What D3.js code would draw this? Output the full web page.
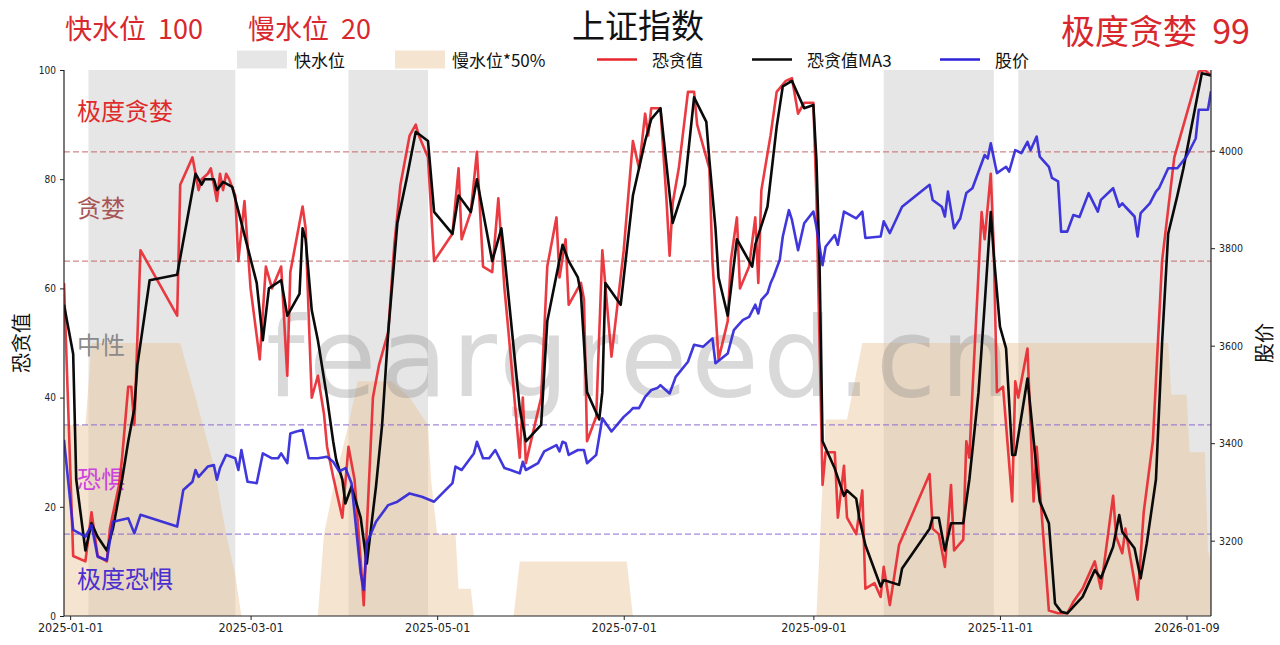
<!DOCTYPE html>
<html><head><meta charset="utf-8">
<script src="https://cdn.jsdelivr.net/npm/d3@7"></script>
<style>body{margin:0;background:#fff;}svg{display:block;}text{font-family:"Noto Sans CJK SC","Noto Sans",sans-serif;}</style>
</head><body>
<svg id="c" width="1280" height="645"></svg>
<script>
// ---------------- DATA ----------------
const fearGreed = [["2024-12-30",61],["2025-01-02",11],["2025-01-06",10],["2025-01-08",19],["2025-01-10",11],["2025-01-13",10],["2025-01-14",16],["2025-01-17",24],["2025-01-18",29],["2025-01-20",42],["2025-01-21",42],["2025-01-22",35],["2025-01-24",67],["2025-02-05",55],["2025-02-06",79],["2025-02-10",84],["2025-02-11",81],["2025-02-12",78],["2025-02-13",80],["2025-02-15",81],["2025-02-16",82],["2025-02-18",76],["2025-02-19",81],["2025-02-20",78],["2025-02-21",81],["2025-02-22",80],["2025-02-24",77],["2025-02-25",65],["2025-02-27",76],["2025-02-28",68],["2025-03-01",60],["2025-03-04",47],["2025-03-06",64],["2025-03-08",60],["2025-03-11",64],["2025-03-13",44],["2025-03-14",63],["2025-03-18",75],["2025-03-19",71],["2025-03-20",55],["2025-03-21",40],["2025-03-23",44],["2025-03-25",37],["2025-03-26",31],["2025-03-28",25.5],["2025-03-31",18],["2025-04-02",31],["2025-04-04",25],["2025-04-06",10],["2025-04-07",2],["2025-04-08",16],["2025-04-10",40],["2025-04-12",46],["2025-04-15",52],["2025-04-17",68],["2025-04-19",79],["2025-04-22",88],["2025-04-24",90],["2025-04-25",88],["2025-04-28",84],["2025-04-30",65],["2025-05-06",70],["2025-05-08",82],["2025-05-09",69],["2025-05-12",74],["2025-05-14",85],["2025-05-15",74.5],["2025-05-16",64],["2025-05-19",63],["2025-05-21",76.5],["2025-05-23",60],["2025-05-24",54],["2025-05-28",29],["2025-05-29",40],["2025-05-30",28],["2025-06-04",40],["2025-06-06",64],["2025-06-09",73],["2025-06-10",62],["2025-06-12",69],["2025-06-13",57],["2025-06-17",61],["2025-06-18",58],["2025-06-19",32],["2025-06-22",36.5],["2025-06-24",67],["2025-06-27",47.5],["2025-07-01",67],["2025-07-04",87],["2025-07-06",82],["2025-07-08",92],["2025-07-09",88],["2025-07-10",93],["2025-07-13",93],["2025-07-15",76],["2025-07-16",66],["2025-07-17",75.6],["2025-07-19",82],["2025-07-22",96],["2025-07-24",96],["2025-07-25",90],["2025-07-28",84],["2025-07-29",82],["2025-07-30",65],["2025-08-01",47],["2025-08-04",54],["2025-08-05",65],["2025-08-07",73],["2025-08-08",60],["2025-08-11",64],["2025-08-13",73],["2025-08-14",61],["2025-08-15",78],["2025-08-18",88],["2025-08-20",96],["2025-08-23",98],["2025-08-25",98.5],["2025-08-27",92],["2025-08-29",94],["2025-09-01",94],["2025-09-02",77],["2025-09-04",24],["2025-09-05",30],["2025-09-08",30],["2025-09-09",18],["2025-09-11",27.5],["2025-09-12",18],["2025-09-15",15],["2025-09-17",23],["2025-09-18",5],["2025-09-21",6],["2025-09-23",3.5],["2025-09-24",9],["2025-09-26",2],["2025-09-29",13],["2025-10-09",26],["2025-10-10",16],["2025-10-12",15],["2025-10-14",9],["2025-10-16",24],["2025-10-17",12],["2025-10-20",14],["2025-10-21",32],["2025-10-22",29],["2025-10-23",41],["2025-10-26",74],["2025-10-27",69],["2025-10-29",81],["2025-10-30",67],["2025-10-31",41],["2025-11-02",42],["2025-11-05",21],["2025-11-06",43],["2025-11-07",40],["2025-11-10",49],["2025-11-12",21],["2025-11-13",31],["2025-11-17",1],["2025-11-20",0.5],["2025-11-23",0.5],["2025-11-25",2.6],["2025-11-28",5],["2025-12-02",10],["2025-12-04",5],["2025-12-08",22],["2025-12-09",14.5],["2025-12-11",11.5],["2025-12-12",16],["2025-12-16",3],["2025-12-18",19],["2025-12-21",32],["2025-12-24",65],["2025-12-28",84],["2026-01-05",99.7],["2026-01-07",100],["2026-01-09",99]];

const fearGreedMA3 = [["2024-12-30",57],["2025-01-02",48],["2025-01-03",25],["2025-01-06",12],["2025-01-08",17],["2025-01-10",14.5],["2025-01-13",12],["2025-01-15",16],["2025-01-18",25],["2025-01-20",32],["2025-01-22",38],["2025-01-23",46],["2025-01-27",61.5],["2025-02-05",62.5],["2025-02-11",81],["2025-02-13",79],["2025-02-14",80],["2025-02-17",80],["2025-02-18",78],["2025-02-20",79.5],["2025-02-23",78.6],["2025-02-26",72],["2025-02-28",67.6],["2025-03-03",61],["2025-03-05",50.5],["2025-03-07",60],["2025-03-11",61.5],["2025-03-13",55],["2025-03-17",59],["2025-03-18",71],["2025-03-19",69],["2025-03-21",56],["2025-03-23",50.5],["2025-03-26",40],["2025-03-28",32],["2025-03-29",28.6],["2025-03-31",25],["2025-04-01",20.6],["2025-04-03",23.7],["2025-04-06",18],["2025-04-08",9.6],["2025-04-11",23.7],["2025-04-13",35],["2025-04-15",52],["2025-04-18",72],["2025-04-21",80],["2025-04-24",88.7],["2025-04-28",87],["2025-04-30",74],["2025-05-06",70],["2025-05-08",77],["2025-05-12",74],["2025-05-14",80],["2025-05-16",74],["2025-05-19",65],["2025-05-22",71],["2025-05-23",66],["2025-05-28",38],["2025-05-30",32],["2025-06-04",35],["2025-06-06",54],["2025-06-11",68],["2025-06-13",65],["2025-06-16",62],["2025-06-17",59],["2025-06-19",41],["2025-06-23",36],["2025-06-24",41],["2025-06-25",61],["2025-06-30",57],["2025-07-04",77],["2025-07-06",82],["2025-07-08",87],["2025-07-10",91],["2025-07-13",93],["2025-07-17",72],["2025-07-21",79],["2025-07-24",95],["2025-07-28",90.5],["2025-07-29",83.5],["2025-07-31",71],["2025-08-01",62],["2025-08-04",55],["2025-08-07",69],["2025-08-12",64],["2025-08-13",68],["2025-08-17",75],["2025-08-20",89.6],["2025-08-22",97],["2025-08-25",98],["2025-08-29",93],["2025-09-01",93.6],["2025-09-02",83.5],["2025-09-03",65],["2025-09-04",32],["2025-09-08",27],["2025-09-11",22],["2025-09-12",23],["2025-09-15",21.5],["2025-09-16",18],["2025-09-18",13],["2025-09-23",5.4],["2025-09-24",6.6],["2025-09-29",5.7],["2025-09-30",8.7],["2025-10-09",16],["2025-10-10",18],["2025-10-12",18],["2025-10-14",12],["2025-10-16",17],["2025-10-20",17],["2025-10-22",25],["2025-10-25",41],["2025-10-27",57],["2025-10-29",74],["2025-10-30",66],["2025-11-01",53],["2025-11-03",49],["2025-11-05",29.5],["2025-11-06",29.5],["2025-11-10",43.5],["2025-11-14",21],["2025-11-17",17],["2025-11-19",2.3],["2025-11-21",0.8],["2025-11-23",0.5],["2025-11-28",3.5],["2025-12-02",8.4],["2025-12-04",6.9],["2025-12-08",12.7],["2025-12-10",18.5],["2025-12-11",15.4],["2025-12-15",12.4],["2025-12-17",6.9],["2025-12-19",13.3],["2025-12-22",25],["2025-12-24",50],["2025-12-26",70],["2025-12-29",77],["2025-12-31",82],["2026-01-06",99.4],["2026-01-09",99]];

const stockPrice = [["2024-12-30",3407],["2025-01-02",3222],["2025-01-05",3212],["2025-01-06",3208],["2025-01-08",3232],["2025-01-10",3167],["2025-01-13",3160],["2025-01-15",3239],["2025-01-20",3246],["2025-01-22",3215],["2025-01-24",3253],["2025-02-05",3229],["2025-02-07",3304],["2025-02-10",3321],["2025-02-11",3345],["2025-02-12",3331],["2025-02-15",3352],["2025-02-17",3355],["2025-02-18",3325],["2025-02-19",3349],["2025-02-21",3376],["2025-02-24",3369],["2025-02-25",3345],["2025-02-26",3386],["2025-02-28",3321],["2025-03-03",3318],["2025-03-05",3379],["2025-03-08",3369],["2025-03-10",3369],["2025-03-11",3379],["2025-03-13",3359],["2025-03-14",3420],["2025-03-16",3424],["2025-03-18",3427],["2025-03-20",3369],["2025-03-23",3369],["2025-03-26",3372],["2025-03-28",3362],["2025-03-30",3342],["2025-04-01",3349],["2025-04-03",3318],["2025-04-06",3133],["2025-04-07",3099],["2025-04-08",3195],["2025-04-11",3239],["2025-04-15",3273],["2025-04-18",3280],["2025-04-22",3297],["2025-04-26",3290],["2025-04-30",3280],["2025-05-06",3318],["2025-05-07",3352],["2025-05-09",3345],["2025-05-13",3379],["2025-05-14",3403],["2025-05-16",3369],["2025-05-18",3369],["2025-05-20",3386],["2025-05-23",3349],["2025-05-25",3345],["2025-05-28",3338],["2025-05-29",3362],["2025-05-30",3345],["2025-06-03",3359],["2025-06-05",3383],["2025-06-09",3396],["2025-06-10",3383],["2025-06-11",3403],["2025-06-12",3400],["2025-06-13",3376],["2025-06-16",3386],["2025-06-18",3386],["2025-06-19",3359],["2025-06-22",3376],["2025-06-24",3451],["2025-06-27",3424],["2025-07-01",3454],["2025-07-03",3465],["2025-07-04",3472],["2025-07-06",3472],["2025-07-08",3495],["2025-07-10",3509],["2025-07-12",3513],["2025-07-13",3519],["2025-07-16",3502],["2025-07-18",3536],["2025-07-22",3567],["2025-07-24",3602],["2025-07-27",3598],["2025-07-30",3615],["2025-07-31",3564],["2025-08-04",3584],["2025-08-06",3632],["2025-08-07",3639],["2025-08-09",3653],["2025-08-11",3659],["2025-08-13",3684],["2025-08-14",3666],["2025-08-15",3694],["2025-08-17",3708],["2025-08-18",3728],["2025-08-19",3742],["2025-08-21",3776],["2025-08-22",3824],["2025-08-24",3878],["2025-08-25",3858],["2025-08-27",3796],["2025-08-29",3851],["2025-09-01",3875],["2025-09-02",3844],["2025-09-04",3765],["2025-09-05",3803],["2025-09-08",3827],["2025-09-09",3807],["2025-09-11",3875],["2025-09-15",3861],["2025-09-17",3875],["2025-09-18",3821],["2025-09-23",3824],["2025-09-24",3855],["2025-09-26",3831],["2025-09-30",3885],["2025-10-09",3930],["2025-10-10",3899],["2025-10-13",3885],["2025-10-14",3865],["2025-10-15",3916],["2025-10-17",3841],["2025-10-19",3861],["2025-10-21",3913],["2025-10-23",3923],["2025-10-27",3991],["2025-10-28",3984],["2025-10-29",4015],["2025-10-31",3954],["2025-11-03",3967],["2025-11-04",3957],["2025-11-06",4001],["2025-11-08",3995],["2025-11-10",4018],["2025-11-11",4001],["2025-11-13",4029],["2025-11-14",3988],["2025-11-17",3967],["2025-11-18",3944],["2025-11-20",3937],["2025-11-21",3834],["2025-11-23",3834],["2025-11-25",3868],["2025-11-27",3864],["2025-11-30",3913],["2025-12-03",3875],["2025-12-04",3899],["2025-12-08",3923],["2025-12-10",3885],["2025-12-11",3892],["2025-12-12",3885],["2025-12-15",3865],["2025-12-16",3824],["2025-12-17",3872],["2025-12-20",3892],["2025-12-22",3916],["2025-12-23",3923],["2025-12-26",3964],["2025-12-29",3964],["2026-01-01",3988],["2026-01-04",4025],["2026-01-05",4084],["2026-01-08",4084],["2026-01-09",4122]];

// fast water level: periods where it stands at 100
const fastBands = [["2025-01-07","2025-02-24"],["2025-04-02","2025-04-28"],["2025-09-24","2025-10-30"],["2025-11-07","2026-01-09"]];
const fastLevel = 100;

// slow water level (0-100), drawn at 50%
const slowLevel = [["2024-12-30",70],["2025-01-06",70],["2025-01-08",100],["2025-02-06",100],["2025-02-11",80],["2025-02-17",55],["2025-02-21",30],["2025-02-24",15],["2025-02-26",0],["2025-03-23",0],["2025-03-25",30],["2025-03-29",52],["2025-04-02",70],["2025-04-05",86],["2025-04-16",86],["2025-04-22",80],["2025-04-28",70],["2025-04-29",50],["2025-05-01",30],["2025-05-07",30],["2025-05-08",10],["2025-05-12",10],["2025-05-13",0],["2025-05-26",0],["2025-05-28",20],["2025-07-02",20],["2025-07-04",0],["2025-09-02",0],["2025-09-05",72],["2025-09-12",72],["2025-09-17",100],["2025-12-26",100],["2025-12-27",81],["2026-01-01",81],["2026-01-02",60],["2026-01-07",60],["2026-01-08",24],["2026-01-09",20]];

const thresholds = [85, 65, 35, 15];
const zoneNames = ["极度贪婪", "贪婪", "中性", "恐惧", "极度恐惧"];
const zoneLevels = [92.7, 75, 50, 25.3, 7.1];
const yTicks = [0, 20, 40, 60, 80, 100];
const priceTicks = [3200, 3400, 3600, 3800, 4000];
const xTickDates = ["2025-01-01","2025-03-01","2025-05-01","2025-07-01","2025-09-01","2025-11-01","2026-01-01"];
const xTickLabels = ["2025-01-01","2025-03-01","2025-05-01","2025-07-01","2025-09-01","2025-11-01","2026-01-09"];
const titleText = "上证指数";
const fastNow = 100, slowNow = 20, fgNow = 99, fgNowName = "极度贪婪";
const legendItems = ["快水位", "慢水位*50%", "恐贪值", "恐贪值MA3", "股价"];

// ---------------- LAYOUT ----------------
const L = 64, R = 1211, T = 70, B = 616;
const parse = d3.utcParse("%Y-%m-%d");
const x = d3.scaleUtc().domain([parse("2024-12-30"), parse("2026-01-09")]).range([L, R]);
const y = d3.scaleLinear().domain([0, 100]).range([B, T]);
const y2 = d3.scaleLinear().domain([3045.5, 4165.5]).range([B, T]);

const C = {
  grey: "#808080", greyOp: 0.2,
  tan: "#e9c497", tanOp: 0.45,
  red: "#e8262e", black: "#0a0a0a", blue: "#2b22d8",
  zone: ["#e02a2a", "#a85555", "#8a8a8a", "#cc44dd", "#4a2fd0"],
  dashHi: "#c46a6a", dashLo: "#8b6cd0"
};

const svg = d3.select("#c");
svg.append("rect").attr("width", 1280).attr("height", 645).attr("fill", "#fff");

const plot = svg.append("g");
plot.append("defs").append("clipPath").attr("id", "clip").append("rect")
  .attr("x", L).attr("y", T).attr("width", R - L).attr("height", B - T);
const cg = plot.append("g").attr("clip-path", "url(#clip)");

// fast water bands
cg.selectAll("rect.fast").data(fastBands).join("rect").attr("class", "fast")
  .attr("x", d => x(parse(d[0]))).attr("width", d => x(parse(d[1])) - x(parse(d[0])))
  .attr("y", y(fastLevel)).attr("height", y(0) - y(fastLevel))
  .attr("fill", C.grey).attr("fill-opacity", C.greyOp);

// slow water area
const slowArea = d3.area().x(d => x(parse(d[0]))).y0(y(0)).y1(d => y(d[1] * 0.5));
cg.append("path").datum(slowLevel).attr("d", slowArea).attr("fill", C.tan).attr("fill-opacity", C.tanOp);

// watermark
cg.append("text").attr("x", 640).attr("y", 396).attr("text-anchor", "middle")
  .style("font-family", "'DejaVu Sans',sans-serif").style("font-size", "110px").style("letter-spacing", "4px")
  .attr("fill", "#808080").attr("fill-opacity", 0.3).text("feargreed.cn");

// threshold dashed lines
cg.selectAll("line.th").data(thresholds).join("line").attr("class", "th")
  .attr("x1", L).attr("x2", R).attr("y1", d => y(d)).attr("y2", d => y(d))
  .attr("stroke", d => d > 50 ? C.dashHi : C.dashLo).attr("stroke-width", 1).attr("stroke-dasharray", "6,3");

// zone labels
cg.selectAll("text.zone").data(zoneNames).join("text").attr("class", "zone")
  .attr("x", 77).attr("y", (d, i) => y(zoneLevels[i])).attr("dominant-baseline", "central")
  .style("font-size", "24px").attr("fill", (d, i) => C.zone[i]).text(d => d);

// lines
const lineFG = d3.line().x(d => x(parse(d[0]))).y(d => y(d[1]));
const lineP = d3.line().x(d => x(parse(d[0]))).y(d => y2(d[1]));
cg.append("path").datum(fearGreed).attr("d", lineFG).attr("fill", "none").attr("stroke", C.red).attr("stroke-width", 2.6).attr("stroke-opacity", 0.9).attr("stroke-linejoin", "round");
cg.append("path").datum(fearGreedMA3).attr("d", lineFG).attr("fill", "none").attr("stroke", C.black).attr("stroke-width", 2.6).attr("stroke-linejoin", "round");
cg.append("path").datum(stockPrice).attr("d", lineP).attr("fill", "none").attr("stroke", C.blue).attr("stroke-width", 2.6).attr("stroke-opacity", 0.9).attr("stroke-linejoin", "round");

// axes
const tickFont = "'DejaVu Sans Condensed','DejaVu Sans',sans-serif";
const axL = svg.append("g").attr("transform", `translate(${L},0)`)
  .call(d3.axisLeft(y).tickValues(yTicks).tickSize(4).tickPadding(4).tickFormat(d3.format("d")));
const axR = svg.append("g").attr("transform", `translate(${R},0)`)
  .call(d3.axisRight(y2).tickValues(priceTicks).tickSize(4).tickPadding(4).tickFormat(d3.format("d")));
const axB = svg.append("g").attr("transform", `translate(0,${B})`)
  .call(d3.axisBottom(x).tickValues(xTickDates.map(parse)).tickSize(4).tickPadding(3)
    .tickFormat((d, i) => xTickLabels[i]));
[axL, axR, axB].forEach(a => {
  a.select(".domain").attr("stroke", "#222").attr("stroke-width", 1.2);
  a.selectAll(".tick line").attr("stroke", "#222");
  a.selectAll(".tick text").style("font-family", tickFont).style("font-stretch", "condensed").attr("fill", "#222");
});
axL.selectAll(".tick text").style("font-size", "10px");
axR.selectAll(".tick text").style("font-size", "10.5px");
axB.selectAll(".tick text").style("font-size", "12.5px");
axL.select(".domain").attr("d", `M0,${T}V${B}`);
axR.select(".domain").attr("d", `M0,${T}V${B}`);
axB.select(".domain").attr("d", `M${L},0H${R}`);

// axis titles
svg.append("text").attr("transform", `translate(20,${(T + B) / 2}) rotate(-90)`).attr("text-anchor", "middle")
  .attr("dominant-baseline", "central").style("font-size", "20px").attr("fill", "#111").text("恐贪值");
svg.append("text").attr("transform", `translate(1263,${(T + B) / 2}) rotate(-90)`).attr("text-anchor", "middle")
  .attr("dominant-baseline", "central").style("font-size", "20px").attr("fill", "#111").text("股价");

// header texts
svg.append("text").attr("x", 638).attr("y", 24).attr("text-anchor", "middle").attr("dominant-baseline", "central")
  .style("font-size", "33px").attr("fill", "#111").text(titleText);
svg.append("text").attr("x", 65).attr("y", 27).attr("dominant-baseline", "central")
  .style("font-size", "27px").attr("fill", "#d8282e").style("white-space", "pre")
  .text("快水位  " + fastNow);
svg.append("text").attr("x", 248).attr("y", 27).attr("dominant-baseline", "central")
  .style("font-size", "27px").attr("fill", "#d8282e").style("white-space", "pre")
  .text("慢水位  " + slowNow);
svg.append("text").attr("x", 1250).attr("y", 29).attr("text-anchor", "end").attr("dominant-baseline", "central")
  .style("font-size", "34px").attr("fill", "#d8282e").style("white-space", "pre")
  .text(fgNowName + "  " + fgNow);

// legend
const lg = svg.append("g");
const lgX = [237, 395, 597, 752, 940];
const lgY = 59.5;
legendItems.forEach((t, i) => {
  if (i === 0) lg.append("rect").attr("x", lgX[i]).attr("y", lgY - 9).attr("width", 50).attr("height", 18).attr("fill", C.grey).attr("fill-opacity", C.greyOp);
  else if (i === 1) lg.append("rect").attr("x", lgX[i]).attr("y", lgY - 9).attr("width", 50).attr("height", 18).attr("fill", C.tan).attr("fill-opacity", C.tanOp);
  else {
    const col = [null, null, C.red, C.black, C.blue][i];
    lg.append("line").attr("x1", lgX[i]).attr("x2", lgX[i] + 40).attr("y1", lgY).attr("y2", lgY).attr("stroke", col).attr("stroke-width", 2.6);
  }
  const tx = lgX[i] + (i < 2 ? 57 : 55);
  lg.append("text").attr("x", tx).attr("y", lgY).attr("dominant-baseline", "central").style("font-size", "17px").attr("fill", "#111").text(t);
});
</script>
</body></html>
